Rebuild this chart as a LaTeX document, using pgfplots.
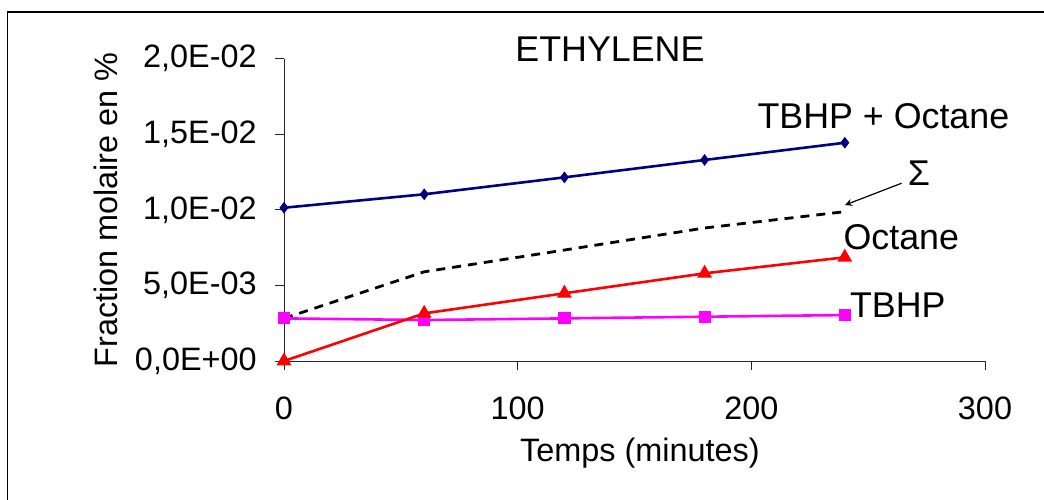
\documentclass[border=0pt]{standalone}
\usepackage{fontspec}
\setmainfont{Liberation Sans}
\usepackage{pgfplots}
\pgfplotsset{compat=1.18}
\definecolor{navyline}{RGB}{0,0,128}
\definecolor{mag}{RGB}{255,0,255}
\newcommand{\bigfnt}{\fontsize{17.9pt}{21pt}\selectfont}
\newcommand{\midfnt}{\fontsize{16.2pt}{19pt}\selectfont}
\begin{document}
\midfnt
\begin{tikzpicture}
\path[use as bounding box] (0,0) rectangle (522pt,249.5pt);
\draw[line width=0.7pt] (3.65pt,-5pt) -- (3.65pt,243.4pt) -- (530pt,243.4pt);
\begin{axis}[
  at={(142pt,69pt)}, anchor=south west,
  scale only axis, width=350.5pt, height=151.15pt,
  xmin=0, xmax=300, ymin=0, ymax=0.02,
  axis lines=left, axis line style={-, line width=0.5pt, black!85},
  tick align=outside, major tick length=4.5pt,
  tick style={black!85, line width=0.5pt},
  xtick={0,100,200,300},
  ytick={0,0.005,0.01,0.015,0.02},
  scaled y ticks=false,
  yticklabels={{0,0E+00},{5,0E-03},{1,0E-02},{1,5E-02},{2,0E-02}},
  /pgf/number format/assume math mode=true,
  tick label style={font=\midfnt},
  xticklabel style={anchor=north, inner sep=0pt, yshift=-13.3pt},
  yticklabel style={anchor=east, inner sep=0pt, xshift=-9pt},
  clip=false,
  xlabel={Temps (minutes)},
  xlabel style={font=\midfnt, at={(axis cs:152.3,0)}, anchor=base, yshift=-50.3pt},
  ylabel={Fraction molaire en \%},
  ylabel style={font=\midfnt, at={(axis description cs:0,0.5)}, anchor=base, yshift=83pt},
]
\addplot[black, line width=1.4pt, dash pattern=on 4.5pt off 3.5pt] coordinates {
  (0,0.00282) (60,0.0059) (120,0.00734) (180,0.0088) (240,0.00988)};
\addplot[navyline, line width=1.3pt, mark=diamond*, mark size=1.9pt] coordinates {
  (0,0.01014) (60,0.01103) (120,0.01215) (180,0.0133) (240,0.01444)};
\addplot[mag, line width=1.3pt, mark=square*, mark size=2.4pt] coordinates {
  (0,0.00282) (60,0.00271) (120,0.00282) (180,0.00293) (240,0.00304)};
\addplot[red, line width=1.3pt, mark=triangle*, mark size=3pt] coordinates {
  (0,0) (60,0.00315) (120,0.00448) (180,0.0058) (240,0.00686)};
\node[inner sep=0pt, font=\bigfnt] at (axis cs:139.5,0.02061) {ETHYLENE};
\node[inner sep=0pt, font=\bigfnt] at (axis cs:256.5,0.01618) {TBHP + Octane};
\node[inner sep=0pt, font=\bigfnt] at (axis cs:271.7,0.01242) {Σ};
\node[inner sep=0pt, font=\bigfnt] at (axis cs:264.2,0.00817) {Octane};
\node[inner sep=0pt, font=\bigfnt] at (axis cs:262.7,0.00367) {TBHP};
\draw[-stealth, line width=0.6pt] (axis cs:264.3,0.01176) -- (axis cs:240.1,0.01032);
\end{axis}
\end{tikzpicture}
\end{document}
